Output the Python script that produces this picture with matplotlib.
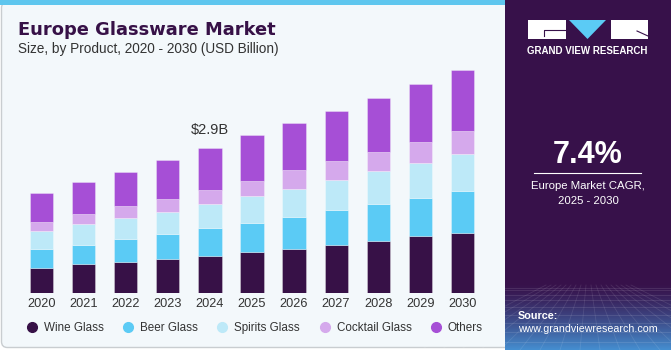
import matplotlib.pyplot as plt
import numpy as np
from matplotlib.patches import Rectangle, FancyBboxPatch, Polygon
from matplotlib.lines import Line2D

plt.rcParams['font.family'] = ['Liberation Sans', 'DejaVu Sans']

# Data (USD Billion)
years = ['2020', '2021', '2022', '2023', '2024', '2025', '2026', '2027', '2028', '2029', '2030']
wine_glass = [0.49, 0.57, 0.62, 0.68, 0.74, 0.81, 0.87, 0.95, 1.04, 1.13, 1.20]
beer_glass = [0.38, 0.39, 0.46, 0.50, 0.55, 0.59, 0.64, 0.70, 0.74, 0.78, 0.84]
spirits_glass = [0.37, 0.41, 0.42, 0.44, 0.50, 0.54, 0.58, 0.62, 0.66, 0.70, 0.74]
cocktail_glass = [0.18, 0.21, 0.23, 0.27, 0.27, 0.31, 0.37, 0.37, 0.39, 0.42, 0.46]
others = [0.58, 0.64, 0.70, 0.77, 0.84, 0.91, 0.95, 1.02, 1.09, 1.16, 1.24]
segments = ['Wine Glass', 'Beer Glass', 'Spirits Glass', 'Cocktail Glass', 'Others']
colors = ['#371147', '#5BCBF5', '#BDE9F8', '#D5A9EC', '#A64FD6']
annot_year = '2024'
annot_text = '\\$2.9B'
cagr = '7.4%'

W, H = 671, 350
fig = plt.figure(figsize=(W / 100, H / 100), dpi=100)

# background drawn in pixel coords
bg = fig.add_axes([0, 0, 1, 1])
bg.set_xlim(0, W)
bg.set_ylim(H, 0)
bg.axis('off')
bg.add_patch(FancyBboxPatch((1.5, 2), 540, 345.5, boxstyle='round,pad=0,rounding_size=6',
                            fc='#F3F8FB', ec='#C9CDD0', lw=1))
bg.add_patch(Rectangle((0, 0), 510, 5, fc='#5EC6EE', ec='none'))

# right panel
bg.add_patch(Rectangle((505, 0), W - 505, H, fc='#37114A', ec='none'))
grad = np.linspace(0, 1, 100)[:, None]
c_top = np.array([0x37, 0x11, 0x4A]) / 255
c_bot = np.array([0x45, 0x8E, 0xD0]) / 255
img = c_top + (c_bot - c_top) * grad[..., None] ** 1.3
bg.imshow(img, extent=[505, W, H, 283], aspect='auto', zorder=1)
for i in range(9):
    yy = 288 + (i ** 1.5) * 2.4
    bg.plot([505, W], [yy, yy], color='white', alpha=0.12, lw=0.6, zorder=2)
for xx in np.linspace(420, 760, 18):
    bg.plot([588 + (xx - 588) * 0.25, xx], [285, H], color='white', alpha=0.10, lw=0.6, zorder=2)

# logo
bg.add_patch(Rectangle((527.5, 20), 38.5, 19, fc='white', ec='none', zorder=3))
bg.plot([544, 544, 566], [36, 30, 30], color='#37114A', lw=0.8, zorder=4)
bg.add_patch(Polygon([(569, 20), (606, 20), (587.5, 39)], closed=True, fc='#5BCBF5', ec='none', zorder=3))
bg.add_patch(Rectangle((611, 20), 37, 19, fc='white', ec='none', zorder=3))
bg.plot([637, 648], [31, 36], color='#37114A', lw=0.8, zorder=4)
bg.text(587.5, 50.7, 'GRAND VIEW RESEARCH', color='white', fontsize=7.0, fontweight='bold',
        ha='center', va='center', zorder=3)

bg.text(588, 155, cagr, color='white', fontsize=22, fontweight='bold', ha='center', va='center', zorder=3)
bg.plot([534, 641], [173.3, 173.3], color='white', lw=0.8, zorder=3)
bg.text(588, 185.7, 'Europe Market CAGR,', color='white', fontsize=8.2, ha='center', va='center', zorder=3)
bg.text(588, 201, '2025 - 2030', color='white', fontsize=8.2, ha='center', va='center', zorder=3)
bg.text(518, 316, 'Source:', color='white', fontsize=7.8, fontweight='bold', ha='left', va='center', zorder=3)
bg.text(518, 329.5, 'www.grandviewresearch.com', color='white', fontsize=7.7, ha='left', va='center', zorder=3)

# titles
bg.text(18, 35, 'Europe Glassware Market', color='#371147', fontsize=12.9, fontweight='bold',
        family='DejaVu Sans', ha='left', va='baseline')
bg.text(18, 53, 'Size, by Product, 2020 - 2030 (USD Billion)', color='#333333', fontsize=9.8,
        ha='left', va='baseline')

# chart
ax = fig.add_axes([20.8 / W, (H - 292.5) / H, (483.2 - 20.8) / W, 248.6 / H])
ax.patch.set_alpha(0)
x = np.arange(len(years))
series = [wine_glass, beer_glass, spirits_glass, cocktail_glass, others]
bottom = np.zeros(len(years))
for vals, col, name in zip(series, colors, segments):
    ax.bar(x, vals, 0.55, bottom=bottom, color=col, edgecolor=(1, 1, 1, 0.35), lw=0.6, label=name)
    bottom += np.array(vals)

i = years.index(annot_year)
ax.text(x[i], bottom[i] + 0.22, annot_text, ha='center', va='bottom', fontsize=10.5, color='#333333')

ax.set_xlim(-0.5, len(years) - 0.5)
ax.set_ylim(0, 5.0)
ax.set_xticks(x)
ax.set_xticklabels(years, fontsize=9.2, color='#333333')
ax.tick_params(axis='x', length=0, pad=4)
ax.set_yticks([])
for s in ax.spines.values():
    s.set_visible(False)

handles = [Line2D([], [], marker='o', ls='none', ms=7, mfc=c, mec=c) for c in colors]
fig.legend(handles, segments, loc='center left', bbox_to_anchor=(27 / W, (H - 327.7) / H), ncol=5,
           frameon=False, fontsize=8.4, handlelength=0.8, handletextpad=0.63, columnspacing=1.7,
           labelcolor='#333333', borderaxespad=0, borderpad=0)

fig.savefig('out.png', dpi=100)
